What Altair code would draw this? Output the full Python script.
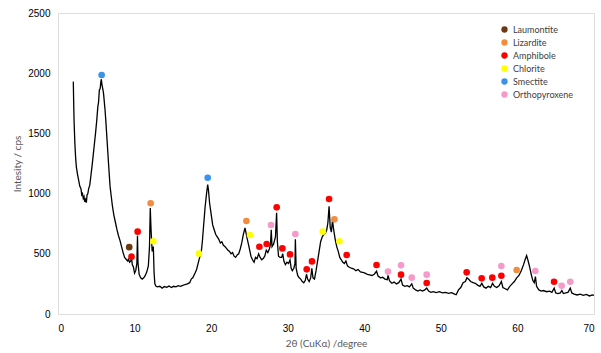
import altair as alt
import pandas as pd

# XRD curve
two_theta = [
    2.0, 2.05, 2.1, 2.2, 2.3, 2.4, 2.55, 2.7, 2.85, 3.0, 3.1, 3.2, 3.3, 3.4, 3.5, 3.6, 3.7, 3.8, 3.9, 4.0,
    4.15, 4.3, 4.45, 4.6, 4.75, 4.9, 5.05, 5.2, 5.3, 5.4, 5.5, 5.6, 5.66, 5.75, 5.85, 5.95, 6.05, 6.15, 6.25, 6.35,
    6.45, 6.55, 6.65, 6.8, 6.95, 7.1, 7.3, 7.5, 7.7, 7.9, 8.1, 8.3, 8.5, 8.7, 8.9, 9.1, 9.2, 9.35, 9.5, 9.6,
    9.7, 9.85, 10.0, 10.15, 10.3, 10.38, 10.45, 10.6, 10.8, 11.0, 11.2, 11.4, 11.6, 11.8, 11.95, 12.05, 12.15, 12.3, 12.45, 12.55,
    12.65, 12.8, 13.0, 13.3, 13.6, 13.9, 14.2, 14.5, 14.8, 15.1, 15.4, 15.7, 16.0, 16.3, 16.6, 16.9, 17.2, 17.4, 17.6, 17.9,
    18.1, 18.3, 18.5, 18.7, 18.85, 19.0, 19.2, 19.4, 19.55, 19.65, 19.8, 20.0, 20.2, 20.4, 20.6, 20.8, 21.0, 21.2, 21.4, 21.6,
    21.8, 22.0, 22.2, 22.4, 22.6, 22.8, 23.0, 23.2, 23.4, 23.6, 23.8, 24.0, 24.2, 24.42, 24.6, 24.8, 25.0, 25.2, 25.4, 25.6,
    25.8, 26.0, 26.2, 26.4, 26.6, 26.8, 27.0, 27.2, 27.4, 27.6, 27.75, 27.85, 27.95, 28.15, 28.4, 28.55, 28.65, 28.8, 29.0, 29.2,
    29.35, 29.5, 29.7, 29.9, 30.1, 30.3, 30.45, 30.6, 30.8, 30.95, 31.0, 31.1, 31.3, 31.5, 31.7, 31.9, 32.1, 32.3, 32.45, 32.6,
    32.8, 33.0, 33.15, 33.3, 33.5, 33.7, 33.9, 34.1, 34.3, 34.5, 34.7, 34.9, 35.1, 35.25, 35.4, 35.55, 35.7, 35.85, 36.0, 36.2,
    36.4, 36.6, 36.8, 37.0, 37.2, 37.4, 37.6, 37.8, 38.0, 38.3, 38.6, 38.9, 39.2, 39.5, 39.8, 40.1, 40.4, 40.7, 41.0, 41.3,
    41.6, 41.8, 42.1, 42.4, 42.7, 43.0, 43.1, 43.3, 43.6, 43.9, 44.2, 44.5, 44.8, 45.0, 45.3, 45.6, 45.9, 46.2, 46.4, 46.7,
    47.0, 47.3, 47.6, 47.9, 48.15, 48.4, 48.7, 49.0, 49.4, 49.8, 50.2, 50.6, 51.0, 51.4, 51.8, 52.0, 52.3, 52.6, 52.9, 53.2,
    53.4, 53.6, 53.9, 54.2, 54.5, 54.8, 55.1, 55.35, 55.6, 55.9, 56.2, 56.5, 56.75, 57.0, 57.3, 57.6, 57.9, 58.1, 58.4, 58.7,
    59.0, 59.3, 59.6, 59.9, 60.2, 60.5, 60.8, 61.0, 61.2, 61.4, 61.6, 61.8, 62.0, 62.2, 62.35, 62.5, 62.8, 63.1, 63.4, 63.8,
    64.2, 64.5, 64.8, 65.0, 65.3, 65.6, 65.8, 66.0, 66.3, 66.6, 66.9, 67.1, 67.4, 67.8, 68.2, 68.6, 69.0, 69.4, 69.8, 70.0,
]
intensity = [
    1930, 1750, 1600, 1420, 1300, 1220, 1160, 1110, 1060, 1040, 990, 1000, 960, 975, 930, 950, 925, 990, 1000, 1040,
    1070, 1150, 1230, 1320, 1410, 1500, 1600, 1720, 1760, 1860, 1870, 1930, 1950, 1900, 1870, 1830, 1760, 1690, 1600, 1500,
    1400, 1300, 1200, 1060, 980, 900, 820, 760, 700, 650, 610, 560, 510, 470, 455, 440, 455, 430, 440, 470,
    410, 390, 340, 360, 420, 650, 420, 330, 300, 290, 300, 320, 350, 400, 560, 880, 700, 520, 560, 340,
    250, 230, 225, 230, 215, 228, 222, 232, 220, 230, 225, 235, 230, 238, 245, 250, 260, 290, 300, 340,
    370, 420, 470, 510, 600, 720, 880, 1000, 1075, 1030, 920, 830, 740, 700, 660, 640, 620, 590, 600, 570,
    560, 545, 530, 520, 500, 510, 480, 470, 490, 500, 540, 590, 660, 715, 660, 600, 540, 480, 450, 430,
    470, 460, 500, 470, 450, 460, 480, 530, 510, 540, 580, 700, 560, 580, 640, 840, 600, 480, 470, 470,
    500, 440, 410, 430, 420, 450, 380, 360, 380, 420, 620, 380, 320, 300, 290, 270, 260, 280, 330, 290,
    270, 300, 380, 300, 290, 360, 440, 520, 600, 640, 660, 670, 700, 760, 895, 720, 680, 780, 700, 620,
    560, 520, 470, 450, 430, 420, 440, 400, 390, 380, 375, 360, 370, 350, 345, 340, 330, 325, 320, 330,
    355, 315, 300, 305, 290, 285, 320, 275, 255, 265, 250, 260, 290, 240, 230, 235, 225, 250, 215, 200,
    190, 200, 190, 200, 215, 190, 180, 185, 178, 185, 175, 180, 172, 178, 165, 160, 200, 220, 260, 270,
    300, 290, 270, 260, 255, 240, 230, 255, 225, 215, 230, 220, 255, 230, 220, 235, 270, 220, 210, 200,
    230, 250, 270, 300, 320, 360, 410, 450, 485, 440, 390, 330, 280, 260, 310, 230, 200, 190, 195, 185,
    190, 180, 215, 175, 170, 175, 195, 170, 175, 180, 215, 175, 165, 158, 165, 155, 162, 150, 158, 155,
]

# Phase markers
minerals = ["Laumontite", "Lizardite", "Amphibole", "Chlorite", "Smectite", "Orthopyroxene"]
colors = ["#6B3A12", "#F38C3C", "#FF0000", "#FFFF00", "#3A92EA", "#F59AC9"]

laumontite_x = [9.3]
laumontite_y = [555]
lizardite_x = [12.1, 24.6, 36.1, 59.9]
lizardite_y = [920, 772, 786, 365]
amphibole_x = [9.6, 10.4, 26.3, 27.25, 28.56, 29.3, 30.3, 32.48, 33.17, 35.4, 37.7, 41.6, 44.8, 48.15,
               53.37, 55.33, 56.72, 57.9, 64.78]
amphibole_y = [476, 684, 559, 581, 886, 545, 495, 371, 437, 955, 490, 407, 327, 257,
               346, 296, 302, 318, 268]
chlorite_x = [12.45, 18.4, 25.07, 34.57, 36.75]
chlorite_y = [604, 501, 656, 684, 604]
smectite_x = [5.7, 19.55]
smectite_y = [1985, 1132]
opx_x = [27.82, 31.0, 43.1, 44.8, 46.2, 48.15, 57.9, 62.34, 65.78, 66.9]
opx_y = [739, 664, 352, 404, 302, 327, 399, 357, 235, 268]

x_ticks = [0, 10, 20, 30, 40, 50, 60, 70]
y_ticks = [0, 500, 1000, 1500, 2000, 2500]

curve = pd.DataFrame({"t": two_theta, "i": intensity})
rows = []
for name, xs, ys in [
    ("Laumontite", laumontite_x, laumontite_y),
    ("Lizardite", lizardite_x, lizardite_y),
    ("Amphibole", amphibole_x, amphibole_y),
    ("Chlorite", chlorite_x, chlorite_y),
    ("Smectite", smectite_x, smectite_y),
    ("Orthopyroxene", opx_x, opx_y),
]:
    for a, b in zip(xs, ys):
        rows.append({"t": a, "i": b, "mineral": name})
marks = pd.DataFrame(rows)

FONT = "Lato"
GREY = "#595959"

x_enc = alt.X("t:Q", scale=alt.Scale(domain=[0, 70], nice=False),
              axis=alt.Axis(values=x_ticks, title="2θ (CuKα) /degree", ticks=False, domain=False,
                            grid=False, labelPadding=9, titlePadding=5, format="d",
                            titleFontWeight="normal", titleFont=FONT, titleColor=GREY, titleFontSize=10))
y_enc = alt.Y("i:Q", scale=alt.Scale(domain=[0, 2500], nice=False),
              axis=alt.Axis(values=y_ticks, title="Intesity / cps", ticks=False, domain=False,
                            grid=False, labelPadding=8, titlePadding=5, format="d",
                            titleFontWeight="normal", titleFont=FONT, titleColor=GREY, titleFontSize=10))

line = alt.Chart(curve).mark_line(color="black", strokeWidth=1.3).encode(x=x_enc, y=y_enc)

points = alt.Chart(marks).mark_circle(size=44, opacity=1).encode(
    x="t:Q",
    y="i:Q",
    color=alt.Color("mineral:N", scale=alt.Scale(domain=minerals, range=colors),
                    legend=alt.Legend(title=None, orient="none", legendX=442, legendY=12,
                                      symbolType="circle", symbolSize=40, symbolStrokeWidth=0,
                                      labelFontSize=9, labelFont=FONT, labelColor="#404040",
                                      rowPadding=3, labelOffset=4)),
)

chart = alt.layer(line, points).properties(
    width=536, height=301,
    autosize=alt.AutoSizeParams(type="none"),
    padding={"left": 58, "top": 13, "right": 7, "bottom": 39},
).configure_view(stroke="#C8C8C8", strokeWidth=1).configure_axis(
    labelFont=FONT, labelColor=GREY, labelFontSize=10,
).configure(background="white")

chart.save("out.html", embed_options={"renderer": "svg", "actions": False})
